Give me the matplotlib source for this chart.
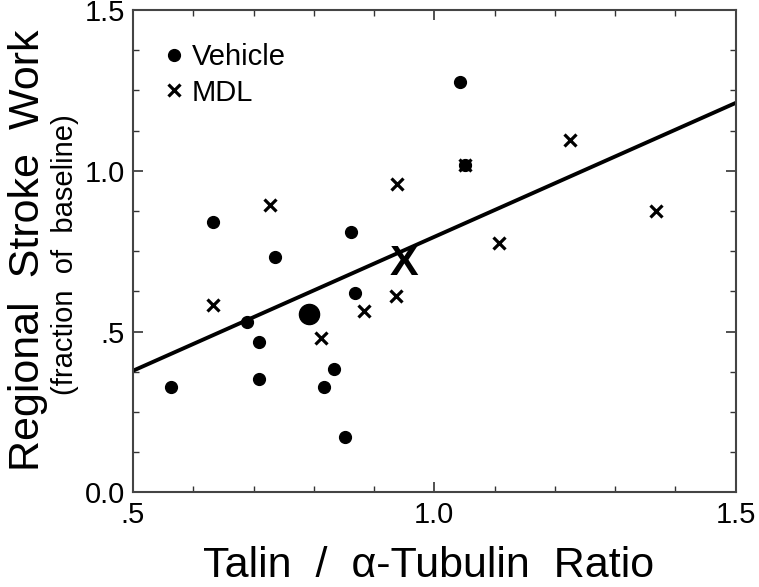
import matplotlib
matplotlib.use("Agg")
import matplotlib.pyplot as plt
from matplotlib.ticker import MultipleLocator, FixedLocator, FixedFormatter

plt.rcParams['font.family'] = ['Liberation Sans', 'DejaVu Sans']

# vehicle group (dots)
veh_x = [0.563, 0.632, 0.736, 0.689, 0.709, 0.709, 0.861, 0.869, 0.834, 0.817, 0.851, 1.042, 1.051]
veh_y = [0.329, 0.840, 0.731, 0.529, 0.466, 0.353, 0.809, 0.621, 0.384, 0.329, 0.172, 1.277, 1.017]
veh_mean = (0.792, 0.555)

# MDL group (crosses)
mdl_x = [0.633, 0.727, 0.812, 0.883, 0.937, 0.938, 1.051, 1.108, 1.225, 1.368]
mdl_y = [0.583, 0.895, 0.479, 0.564, 0.612, 0.959, 1.017, 0.775, 1.096, 0.876]
mdl_mean = (0.949, 0.711)

# regression line
fit_x = [0.5, 1.5]
fit_y = [0.378, 1.211]

xticks = [0.5, 1.0, 1.5]
xlabels = ['.5', '1.0', '1.5']
yticks = [0.0, 0.5, 1.0, 1.5]
ylabels = ['0.0', '.5', '1.0', '1.5']

fig = plt.figure(figsize=(7.59, 5.87), dpi=100)
ax = fig.add_axes([0.1752, 0.1613, 0.7941, 0.8217])

ax.plot(fit_x, fit_y, color='black', lw=2.8, zorder=2)
ax.plot(veh_x, veh_y, 'o', color='black', ms=8.5, ls='none', label='Vehicle', zorder=3)
ax.plot(mdl_x, mdl_y, 'x', color='black', ms=8.5, mew=2.3, ls='none', label='MDL', zorder=3)
ax.plot([veh_mean[0]], [veh_mean[1]], 'o', color='black', ms=14.5, zorder=3)
ax.text(mdl_mean[0], mdl_mean[1], 'X', fontsize=31, fontweight='bold',
        ha='center', va='center', zorder=3)

ax.set_xlim(0.5, 1.5)
ax.set_ylim(0.0, 1.5)
ax.xaxis.set_major_locator(FixedLocator(xticks))
ax.xaxis.set_major_formatter(FixedFormatter(xlabels))
ax.yaxis.set_major_locator(FixedLocator(yticks))
ax.yaxis.set_major_formatter(FixedFormatter(ylabels))
ax.xaxis.set_minor_locator(MultipleLocator(0.1))
ax.yaxis.set_minor_locator(MultipleLocator(0.125))
ax.tick_params(which='both', direction='in', top=True, right=True, colors='#333333')
ax.tick_params(which='major', length=7, width=1.2, labelsize=21, labelcolor='black', pad=6)
ax.tick_params(which='minor', length=4, width=1.0)
for s in ax.spines.values():
    s.set_color('#444444')
    s.set_linewidth(1.5)

leg = ax.legend(loc='upper left', bbox_to_anchor=(0.035, 0.955), frameon=False,
                fontsize=21, handlelength=0.6, handletextpad=0.3,
                labelspacing=0.25, borderaxespad=0)

fig.text(0.565, 0.035, 'Talin  /  \u03b1-Tubulin  Ratio', fontsize=31,
         ha='center', va='center')
fig.text(0.037, 0.574, 'Regional  Stroke  Work', fontsize=31, rotation=90,
         ha='center', va='center')
fig.text(0.086, 0.566, '(fraction  of  baseline)', fontsize=21, rotation=90,
         ha='center', va='center')

fig.savefig('out.png', dpi=100)
